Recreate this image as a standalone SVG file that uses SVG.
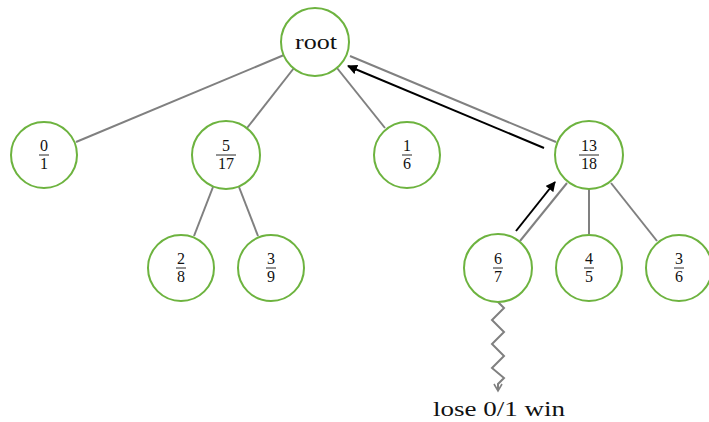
<svg xmlns="http://www.w3.org/2000/svg" width="709" height="422" viewBox="0 0 709 422">
  <style>
    .node circle { fill: #ffffff; stroke: #6db33f; stroke-width: 2; }
    .edge { stroke: #808080; stroke-width: 2; fill: none; }
    .walk { stroke: #000000; stroke-width: 2; fill: none; marker-end: url(#tip); }
    .num { font-family: "Liberation Serif", "DejaVu Serif", serif; font-size: 16px; fill: #111111; text-anchor: middle; }
    .bar { stroke: #111111; stroke-width: 0.9; }
    .lbl { font-family: "Liberation Serif", "DejaVu Serif", serif; font-size: 22px; fill: #111111; text-anchor: middle; }
  </style>
  <defs>
    <marker id="tip" viewBox="0 0 10 10" refX="9" refY="5" markerWidth="5" markerHeight="5" orient="auto" markerUnits="strokeWidth">
      <path d="M0,0 L10,5 L0,10 Z" fill="#000000"/>
    </marker>
    <marker id="open" viewBox="0 0 10 10" refX="8" refY="5" markerWidth="5" markerHeight="5" orient="auto" markerUnits="strokeWidth">
      <path d="M1,1 L8,5 L1,9" fill="none" stroke="#808080" stroke-width="1.6"/>
    </marker>
  </defs>

  <g id="connectors">
    <line class="edge" x1="284" y1="55" x2="76" y2="142"/>
    <line class="edge" x1="294" y1="68" x2="247" y2="128"/>
    <line class="edge" x1="337" y1="68" x2="385" y2="128"/>
    <line class="edge" x1="350" y1="56" x2="556" y2="142"/>
    <line class="edge" x1="213" y1="187" x2="194" y2="236"/>
    <line class="edge" x1="239" y1="187" x2="258" y2="236"/>
    <line class="edge" x1="567" y1="183" x2="520" y2="241"/>
    <line class="edge" x1="589" y1="189" x2="589" y2="234"/>
    <line class="edge" x1="611" y1="183" x2="657" y2="241"/>
    <polyline class="edge" stroke-width="1.8" marker-end="url(#open)" points="498,302 504,308 492,320 504,332 492,344 504,356 492,368 504,378 498,384 498,391"/>
    <line class="walk" x1="544" y1="148" x2="348" y2="66"/>
    <line class="walk" x1="516" y1="231" x2="555" y2="182"/>
  </g>

  <g id="root" class="node">
    <circle cx="315" cy="42" r="34"/>
    <text class="lbl" x="316" y="49" textLength="42" lengthAdjust="spacingAndGlyphs">root</text>
  </g>
  <g id="n0_1" class="node">
    <circle cx="44" cy="155" r="33"/>
    <text class="num" x="44" y="151">0</text><line class="bar" x1="39" y1="155" x2="49" y2="155"/><text class="num" x="44" y="169">1</text>
  </g>
  <g id="n5_17" class="node">
    <circle cx="226" cy="155" r="34"/>
    <text class="num" x="226" y="151">5</text><line class="bar" x1="216" y1="155" x2="236" y2="155"/><text class="num" x="226" y="169">17</text>
  </g>
  <g id="n1_6" class="node">
    <circle cx="407" cy="155" r="33"/>
    <text class="num" x="407" y="151">1</text><line class="bar" x1="402" y1="155" x2="412" y2="155"/><text class="num" x="407" y="169">6</text>
  </g>
  <g id="n13_18" class="node">
    <circle cx="589" cy="155" r="34"/>
    <text class="num" x="589" y="151">13</text><line class="bar" x1="579" y1="155" x2="599" y2="155"/><text class="num" x="589" y="169">18</text>
  </g>
  <g id="n2_8" class="node">
    <circle cx="181" cy="268" r="33"/>
    <text class="num" x="181" y="264">2</text><line class="bar" x1="176" y1="268" x2="186" y2="268"/><text class="num" x="181" y="282">8</text>
  </g>
  <g id="n3_9" class="node">
    <circle cx="271" cy="268" r="33"/>
    <text class="num" x="271" y="264">3</text><line class="bar" x1="266" y1="268" x2="276" y2="268"/><text class="num" x="271" y="282">9</text>
  </g>
  <g id="n6_7" class="node">
    <circle cx="498" cy="268" r="34"/>
    <text class="num" x="498" y="264">6</text><line class="bar" x1="493" y1="268" x2="503" y2="268"/><text class="num" x="498" y="282">7</text>
  </g>
  <g id="n4_5" class="node">
    <circle cx="589" cy="268" r="33"/>
    <text class="num" x="589" y="264">4</text><line class="bar" x1="584" y1="268" x2="594" y2="268"/><text class="num" x="589" y="282">5</text>
  </g>
  <g id="n3_6" class="node">
    <circle cx="679" cy="268" r="33"/>
    <text class="num" x="679" y="264">3</text><line class="bar" x1="674" y1="268" x2="684" y2="268"/><text class="num" x="679" y="282">6</text>
  </g>

  <text class="lbl" x="499" y="416" textLength="132" lengthAdjust="spacingAndGlyphs">lose 0/1 win</text>
</svg>
